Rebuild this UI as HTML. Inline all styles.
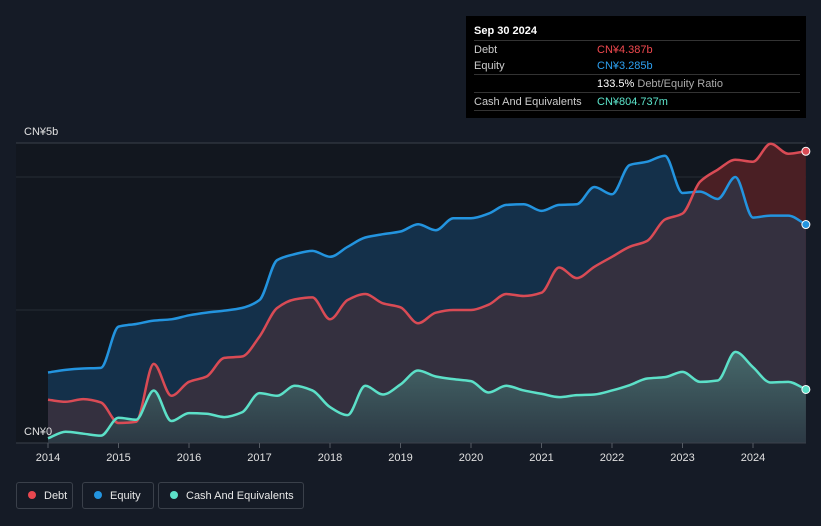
<!DOCTYPE html>
<html><head><meta charset="utf-8"><style>
body{margin:0;background:#151b26;width:821px;height:526px;overflow:hidden;font-family:"Liberation Sans",sans-serif;}
#tip{position:absolute;left:466px;top:16px;width:340px;height:102px;background:#000;color:#fff;font-size:11px;}
.row{position:absolute;left:8px;right:6px;height:17px;border-top:1px solid #333;}
.row span{position:absolute;top:3px}
.legend{position:absolute;top:482px;height:27px;border:1px solid #3a404a;border-radius:3px;color:#e8e8e8;font-size:11px;line-height:27px;box-sizing:border-box;}
.dot{display:inline-block;width:8px;height:8px;border-radius:50%;margin:0 8px 0 11px;vertical-align:-0px}
</style></head><body>
<svg id="chart" width="821" height="526" style="position:absolute;left:0;top:0">
<defs>
<linearGradient id="cg" x1="0" y1="0" x2="0" y2="1"><stop offset="0" stop-color="#46686a"/><stop offset="1" stop-color="#2c3944"/></linearGradient>
<clipPath id="eqclip"><path id="eqclipPath"/></clipPath>
</defs>
<rect x="16" y="143" width="790" height="300" fill="#12171f"/>
<g id="grid"></g>
<g id="areas"></g>
<g id="lines"></g>
<g id="axis"></g>
</svg>
<div id="tip">
<div style="position:absolute;left:8px;top:9px;font-weight:bold">Sep 30 2024</div>
<div class="row" style="top:24px"><span style="color:#ccc">Debt</span><span style="left:123px;color:#f0484e">CN¥4.387b</span></div>
<div class="row" style="top:41px;border-top:none"><span style="color:#ccc">Equity</span><span style="left:123px;color:#2da0f0">CN¥3.285b</span></div>
<div class="row" style="top:58px"><span style="left:123px;color:#fff">133.5% <span style="position:static;color:#aaa">Debt/Equity Ratio</span></span></div>
<div class="row" style="top:76px;border-bottom:1px solid #333"><span style="color:#ccc">Cash And Equivalents</span><span style="left:123px;color:#5ce6cc">CN¥804.737m</span></div>
</div>
<div class="legend" style="left:16px;width:57px"><span class="dot" style="background:#e8474f"></span>Debt</div>
<div class="legend" style="left:82px;width:72px"><span class="dot" style="background:#2394df"></span>Equity</div>
<div class="legend" style="left:158px;width:146px"><span class="dot" style="background:#5ce0c8"></span>Cash And Equivalents</div>
<script>
const years=[2014,2015,2016,2017,2018,2019,2020,2021,2022,2023,2024];
const yTicks=[0,5];
const yTickLabels=["CN¥0","CN¥5b"];
const equity=[1.06,1.10,1.12,1.13,1.75,1.79,1.84,1.86,1.92,1.96,1.99,2.03,2.15,2.75,2.84,2.89,2.80,2.95,3.09,3.14,3.18,3.29,3.20,3.38,3.38,3.45,3.58,3.59,3.49,3.58,3.59,3.85,3.74,4.18,4.23,4.32,3.76,3.78,3.67,4.00,3.39,3.42,3.42,3.285];
const debt=[0.65,0.62,0.66,0.61,0.30,0.32,1.19,0.71,0.92,1.00,1.28,1.30,1.60,2.03,2.16,2.19,1.86,2.15,2.24,2.10,2.04,1.80,1.96,2.00,2.00,2.08,2.24,2.21,2.26,2.64,2.48,2.65,2.80,2.95,3.04,3.36,3.45,3.93,4.11,4.26,4.23,4.50,4.35,4.387];
const cash=[0.07,0.17,0.14,0.11,0.38,0.35,0.79,0.33,0.45,0.44,0.39,0.46,0.75,0.71,0.86,0.79,0.54,0.42,0.86,0.73,0.88,1.09,1.00,0.96,0.93,0.76,0.86,0.79,0.74,0.69,0.72,0.73,0.79,0.87,0.97,0.99,1.07,0.92,0.94,1.37,1.14,0.91,0.92,0.805];
const startYear=2014, step=0.25;
const X=t=>48+(t-2014)*70.5;
const Y=v=>443-v*66.5;
const NS="http://www.w3.org/2000/svg";
function mk(tag,attrs,parent){const e=document.createElementNS(NS,tag);for(const k in attrs)e.setAttribute(k,attrs[k]);parent.appendChild(e);return e;}
function pts(arr){return arr.map((v,i)=>[X(startYear+i*step),Y(v)]);}
function mono(p){const n=p.length,d=[],m=[];for(let i=0;i<n-1;i++)d.push((p[i+1][1]-p[i][1])/(p[i+1][0]-p[i][0]));
m[0]=d[0];m[n-1]=d[n-2];for(let i=1;i<n-1;i++){m[i]=d[i-1]*d[i]<=0?0:3*(d[i-1]+d[i])/( (2*d[i]+d[i-1])/d[i-1]*d[i-1]/d[i-1]*0+ (d[i-1]+d[i]) ) ; if(d[i-1]*d[i]>0){m[i]=2/(1/d[i-1]+1/d[i]);}}
let s="M"+p[0][0]+","+p[0][1];for(let i=0;i<n-1;i++){const h=(p[i+1][0]-p[i][0])/3;s+="C"+(p[i][0]+h)+","+(p[i][1]+m[i]*h)+" "+(p[i+1][0]-h)+","+(p[i+1][1]-m[i+1]*h)+" "+p[i+1][0]+","+p[i+1][1];}return s;}
function area(arr){const p=pts(arr);return mono(p)+"L"+p[p.length-1][0]+","+Y(0)+"L"+p[0][0]+","+Y(0)+"Z";}
const grid=document.getElementById('grid');
[[143,"#3b414b"],[Y(4),"#262c36"],[Y(2),"#262c36"]].forEach(([y,c])=>{const l=mk('line',{x1:16,x2:806,y1:y,y2:y,stroke:c,'stroke-width':1},grid);

});
const A=document.getElementById('areas');
document.getElementById('eqclipPath').setAttribute('d',area(equity));
let e1=mk('path',{d:area(equity),fill:'#14304a'},A);


let d1=mk('path',{d:area(debt),fill:'#4a1f24'},A);


let d2=mk('path',{d:area(debt),fill:'#34303f','clip-path':'url(#eqclip)'},A);


let c1=mk('path',{d:area(cash),fill:'url(#cg)'},A);


const L=document.getElementById('lines');
[[equity,'#2394df','equity-line'],[debt,'#d94b55','debt-line'],[cash,'#5ce0c8','cash-line']].forEach(([a,c,n])=>{
const l=mk('path',{d:mono(pts(a)),fill:'none',stroke:c,'stroke-width':2.5},L);


const p=pts(a).pop();
const dt=mk('circle',{cx:p[0],cy:p[1],r:4,fill:c,stroke:'#fff','stroke-width':1},L);

});
const ax=document.getElementById('axis');
const base=mk('line',{x1:16,x2:806,y1:443,y2:443,stroke:'#3b414b'},ax);


years.forEach(y=>{mk('line',{x1:X(y),x2:X(y),y1:443,y2:448,stroke:'#555b64'},ax);
const t=mk('text',{x:X(y),y:461,'text-anchor':'middle',fill:'#e0e0e0','font-size':11},ax);t.textContent=y;

});
yTicks.forEach((v,i)=>{const t=mk('text',{x:24,y:i==0?435:135,fill:'#e0e0e0','font-size':11},ax);t.textContent=yTickLabels[i];

});
</script>
</body></html>
